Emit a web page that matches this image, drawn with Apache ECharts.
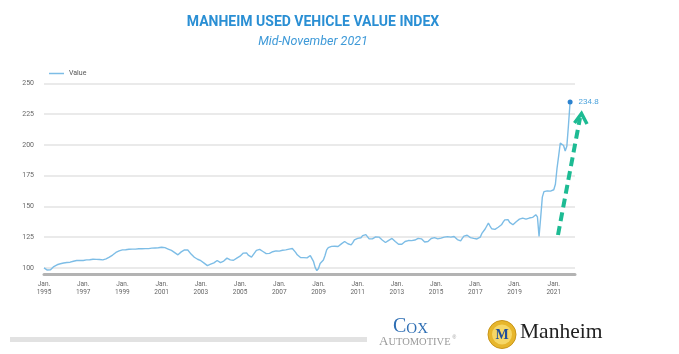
<!DOCTYPE html>
<html>
<head>
<meta charset="utf-8">
<script src="https://cdn.jsdelivr.net/npm/echarts@6/dist/echarts.min.js"></script>
<style>
html,body{margin:0;padding:0;background:#fff;}
#chart{width:679px;height:354px;}
</style>
</head>
<body>
<div id="chart"></div>
<script>
// Monthly index values, Jan 1995 .. mid-Nov 2021 (month index 0 = Jan 1995)
const startYear = 1995;
const v1995 = [100.0, 98.9, 98.2, 97.6, 98.4, 99.8, 101.0, 101.8, 102.5, 103.0, 103.3, 103.6];
const v1996 = [103.9, 104.0, 104.3, 104.2, 104.6, 105.0, 105.4, 105.8, 106.0, 105.8, 106.1, 106.2];
const v1997 = [106.0, 106.3, 106.5, 106.4, 106.6, 106.8, 107.0, 106.7, 106.9, 107.2, 106.8, 106.5];
const v1998 = [106.5, 106.8, 107.3, 107.9, 108.7, 109.5, 110.4, 111.4, 112.5, 113.2, 113.8, 114.2];
const v1999 = [114.6, 114.8, 114.7, 115.0, 115.1, 115.0, 115.2, 115.4, 115.2, 115.3, 115.5, 115.4];
const v2000 = [115.5, 115.3, 115.6, 115.8, 115.6, 115.9, 116.0, 115.8, 116.2, 116.4, 116.3, 116.6];
const v2001 = [116.8, 116.7, 116.4, 115.9, 115.3, 114.6, 114.2, 113.5, 112.4, 111.2, 110.6, 111.5];
const v2002 = [113.0, 114.2, 114.6, 114.8, 114.5, 113.0, 111.2, 109.8, 108.6, 107.6, 107.0, 106.4];
const v2003 = [105.8, 105.0, 103.8, 102.6, 101.8, 102.2, 103.0, 103.3, 104.1, 105.2, 106.0, 105.4];
const v2004 = [104.3, 104.6, 105.5, 106.8, 107.9, 107.3, 106.5, 106.0, 106.2, 107.0, 107.9, 108.7];
const v2005 = [109.5, 110.6, 112.0, 113.3, 112.2, 110.4, 109.2, 108.7, 110.3, 112.4, 114.2, 115.2];
const v2006 = [115.0, 114.3, 113.3, 112.4, 111.6, 111.4, 111.8, 112.5, 113.1, 113.6, 113.8, 114.1];
const v2007 = [113.6, 113.9, 114.3, 114.6, 114.6, 114.9, 115.2, 115.4, 115.7, 114.6, 112.6, 110.6];
const v2008 = [109.2, 108.4, 107.9, 108.3, 107.8, 108.1, 109.2, 110.0, 109.6, 105.0, 100.2, 97.8];
const v2009 = [99.5, 103.5, 105.1, 106.4, 110.0, 114.6, 116.5, 117.9, 117.5, 117.3, 117.6, 117.4];
const v2010 = [117.4, 118.0, 119.5, 120.8, 121.4, 120.6, 119.6, 118.9, 118.7, 120.5, 122.8, 124.2];
const v2011 = [124.0, 123.8, 124.5, 126.2, 127.6, 127.0, 125.4, 123.6, 122.8, 123.6, 124.6, 125.2];
const v2012 = [125.5, 125.0, 124.0, 122.6, 121.2, 120.6, 121.0, 122.4, 123.6, 123.9, 123.0, 121.4];
const v2013 = [120.2, 119.2, 118.7, 119.2, 120.3, 121.4, 122.0, 122.2, 122.0, 122.1, 122.2, 122.6];
const v2014 = [123.3, 124.0, 124.4, 123.6, 122.2, 121.0, 120.6, 121.4, 122.6, 123.9, 125.0, 124.6];
const v2015 = [124.0, 123.6, 123.9, 124.2, 124.6, 125.0, 125.2, 125.4, 125.3, 125.0, 125.3, 125.5];
const v2016 = [124.5, 123.0, 121.6, 122.0, 124.0, 125.8, 126.9, 126.5, 125.4, 124.6, 124.2, 124.0];
const v2017 = [123.8, 123.5, 123.4, 125.0, 128.0, 129.6, 131.6, 134.0, 136.4, 134.0, 131.8, 130.9];
const v2018 = [131.3, 132.2, 133.0, 133.6, 135.0, 137.2, 139.0, 140.5, 139.2, 137.0, 135.4, 135.0];
const v2019 = [135.6, 137.5, 138.8, 139.6, 140.0, 140.5, 140.2, 139.6, 140.3, 140.5, 139.0, 141.0];
const v2020 = [142.2, 143.2, 141.5, 125.6, 141.0, 157.5, 162.0, 163.5, 162.6, 163.2, 162.4, 162.0];
const v2021 = [163.5, 168.0, 181.0, 191.0, 201.5, 203.0, 199.5, 195.0, 198.8, 216.0, 234.8];

const yTicks = [100, 125, 150, 175, 200, 225, 250];
const seriesName = 'Value';
const titleText = 'MANHEIM USED VEHICLE VALUE INDEX';
const subtitleText = 'Mid-November 2021';

const allValues = [].concat(v1995, v1996, v1997, v1998, v1999, v2000, v2001, v2002, v2003,
  v2004, v2005, v2006, v2007, v2008, v2009, v2010, v2011, v2012, v2013, v2014, v2015,
  v2016, v2017, v2018, v2019, v2020, v2021);
const lastIdx = allValues.length - 1;
const seriesData = allValues.map((v, i) => {
  if (i === lastIdx) {
    return {
      value: [i, v],
      symbol: 'circle',
      symbolSize: 5,
      itemStyle: { color: '#2b82cf' },
      label: {
        show: true, position: 'right', distance: 6,
        color: '#4aa2dc', fontSize: 8,
        formatter: (p) => p.value[1].toFixed(1)
      }
    };
  }
  return [i, v];
});

const chart = echarts.init(document.getElementById('chart'), null, { renderer: 'canvas' });
chart.setOption({
  backgroundColor: '#ffffff',
  animation: false,
  title: [{
    text: titleText,
    left: 308, top: 10, textAlign: 'center',
    textStyle: { fontFamily: 'Roboto', fontWeight: 'bold', fontSize: 14, color: '#2a8fd4' }
  }, {
    text: subtitleText,
    left: 308, top: 30, textAlign: 'center',
    textStyle: { fontFamily: 'Roboto', fontStyle: 'italic', fontWeight: 'normal', fontSize: 12.5, color: '#3f9ad8' }
  }],
  legend: {
    show: true,
    left: 44, top: 65,
    icon: 'rect', itemWidth: 15, itemHeight: 1.5, itemGap: 5,
    textStyle: { fontSize: 7, color: '#555', fontFamily: 'Roboto' },
    data: [seriesName]
  },
  grid: { left: 44, right: 104, top: 83, bottom: 80 },
  xAxis: {
    type: 'value', min: 0, max: 325, interval: 24,
    axisLine: { show: true, onZero: false, lineStyle: { color: '#b3b3b3', width: 3 } },
    axisTick: { show: false },
    splitLine: { show: false },
    axisLabel: {
      showMaxLabel: false,
      fontSize: 6.5, color: '#666', lineHeight: 8, margin: 6, fontFamily: 'Roboto',
      formatter: (v) => (v % 24 === 0 ? 'Jan.\n' + (startYear + v / 12) : '')
    }
  },
  yAxis: {
    type: 'value', min: 95, max: 250.3,
    axisLine: { show: false },
    axisTick: { show: false, customValues: yTicks },
    axisLabel: { customValues: yTicks, fontSize: 7, color: '#666', margin: 10, fontFamily: 'Roboto' },
    splitLine: { show: true, showMaxLine: true, lineStyle: { color: '#e3e3e3', width: 1.5 } }
  },
  series: [{
    name: seriesName,
    type: 'line',
    data: seriesData,
    symbol: 'none',
    showSymbol: true,
    lineStyle: { color: '#7dbde6', width: 1.4 },
    itemStyle: { color: '#7dbde6' },
    emphasis: { disabled: true }
  }],
  graphic: [
    { type: 'line', silent: true, z: 100,
      shape: { x1: 558, y1: 235, x2: 580, y2: 118 },
      style: { stroke: '#1dbb93', lineWidth: 4, lineDash: [9, 5] } },
    { type: 'polyline', silent: true, z: 100,
      shape: { points: [[574.5, 123], [581.5, 113.5], [587, 124]] },
      style: { stroke: '#1dbb93', lineWidth: 3.5, fill: null, lineJoin: 'miter' } },
    { type: 'rect', silent: true,
      shape: { x: 10, y: 337, width: 357, height: 5 },
      style: { fill: '#e2e2e2' } },
    { type: 'text', silent: true, left: 393, top: 317,
      style: {
        text: '{b|C}{s|OX}',
        rich: {
          b: { font: '20px "Liberation Serif", serif', fill: '#2f6fb4', verticalAlign: 'bottom' },
          s: { font: '15px "Liberation Serif", serif', fill: '#2f6fb4', verticalAlign: 'bottom' }
        }
      } },
    { type: 'text', silent: true, left: 379, top: 335,
      style: {
        text: '{b|A}{s|UTOMOTIVE}{t|®}',
        rich: {
          b: { font: '13px "Liberation Serif", serif', fill: '#9a9a9a', verticalAlign: 'bottom' },
          s: { font: '10.5px "Liberation Serif", serif', fill: '#9a9a9a', verticalAlign: 'bottom' },
          t: { font: '5px sans-serif', fill: '#9a9a9a', verticalAlign: 'top', padding: [0, 0, 6, 2] }
        }
      } },
    { type: 'circle', silent: true,
      shape: { cx: 502, cy: 334.5, r: 14 },
      style: { fill: '#e7b62c', stroke: '#c9961a', lineWidth: 1 } },
    { type: 'circle', silent: true,
      shape: { cx: 502, cy: 334.5, r: 10 },
      style: { fill: '#f6d766' } },
    { type: 'text', silent: true, x: 502, y: 335,
      style: { text: 'M', font: 'bold 14px "Liberation Serif", serif', fill: '#1f4e9a', align: 'center', verticalAlign: 'middle' } },
    { type: 'text', silent: true, left: 520, top: 321,
      style: { text: 'Manheim', font: '21.5px "Liberation Serif", serif', fill: '#222' } }
  ]
});
</script>
</body>
</html>
